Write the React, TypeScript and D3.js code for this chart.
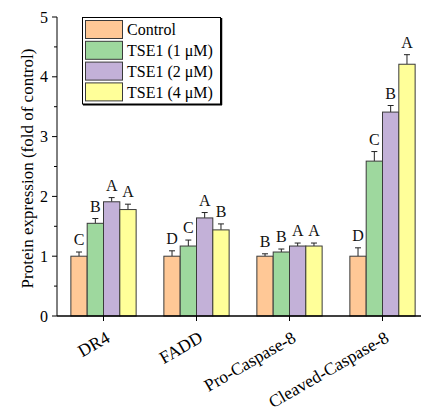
import React from "react";
import * as d3 from "d3";

const categories = ["DR4", "FADD", "Pro-Caspase-8", "Cleaved-Caspase-8"];
const seriesNames = ["Control", "TSE1 (1 μM)", "TSE1 (2 μM)", "TSE1 (4 μM)"];
const seriesColors = ["#FFC896", "#9ED89E", "#C3B1D8", "#FFFF99"];

const controlValues = [1.0, 1.0, 1.0, 1.0];
const controlErrors = [0.07, 0.09, 0.04, 0.14];
const tse1Values = [1.55, 1.17, 1.07, 2.59];
const tse1Errors = [0.08, 0.1, 0.05, 0.16];
const tse2Values = [1.91, 1.64, 1.17, 3.41];
const tse2Errors = [0.07, 0.09, 0.05, 0.11];
const tse4Values = [1.78, 1.44, 1.17, 4.21];
const tse4Errors = [0.09, 0.1, 0.05, 0.16];

const controlLetters = ["C", "D", "B", "D"];
const tse1Letters = ["B", "C", "B", "C"];
const tse2Letters = ["A", "A", "A", "B"];
const tse4Letters = ["A", "B", "A", "A"];

const yTicks = [0, 1, 2, 3, 4, 5];
const yMinorTicks = [0.5, 1.5, 2.5, 3.5, 4.5];

const allValues = [controlValues, tse1Values, tse2Values, tse4Values];
const allErrors = [controlErrors, tse1Errors, tse2Errors, tse4Errors];
const allLetters = [controlLetters, tse1Letters, tse2Letters, tse4Letters];

const W = 421;
const H = 414;
const FONT = "'Liberation Serif', 'Times New Roman', serif";

export default function App() {
  const left = 57;
  const bottom = 316;
  const top = 17;
  const x0 = d3.scaleBand<string>().domain(categories).range([left, left + 4 * 93]).padding(0);
  const x1 = d3
    .scaleBand<string>()
    .domain(seriesNames)
    .range([0, x0.bandwidth()])
    .paddingInner(0)
    .paddingOuter(0.85);
  const y = d3.scaleLinear().domain([0, 5]).range([bottom, top]);

  return (
    <svg
      width={W}
      height={H}
      style={{ position: "absolute", left: 0, top: 0, background: "#fff" }}
      fontFamily={FONT}
    >
      <rect x={0} y={0} width={W} height={H} fill="#fff" />
      {categories.map((cat, ci) => (
        <g key={cat}>
          {seriesNames.map((s, si) => {
            const v = allValues[si][ci];
            const e = allErrors[si][ci];
            const bx = (x0(cat) as number) + (x1(s) as number);
            const bw = x1.bandwidth();
            const cx = bx + bw / 2;
            return (
              <g key={s}>
                <line x1={cx} x2={cx} y1={y(v)} y2={y(v + e)} stroke="#222" strokeWidth={1} />
                <line x1={cx - 3} x2={cx + 3} y1={y(v + e)} y2={y(v + e)} stroke="#222" strokeWidth={1} />
                <rect
                  x={bx}
                  y={y(v)}
                  width={bw}
                  height={y(0) - y(v)}
                  fill={seriesColors[si]}
                  stroke="#3a3a3a"
                  strokeWidth={1}
                />
                <text x={cx} y={y(v + e) - 7} textAnchor="middle" fontSize={16} fill="#111">
                  {allLetters[si][ci]}
                </text>
              </g>
            );
          })}
        </g>
      ))}
      <line x1={left} x2={left} y1={top} y2={bottom} stroke="#000" strokeWidth={1} />
      {yTicks.map((t) => (
        <g key={t}>
          <line x1={left - 5} x2={left} y1={y(t)} y2={y(t)} stroke="#000" />
          <text x={left - 9} y={y(t)} dy="0.35em" textAnchor="end" fontSize={16}>
            {t}
          </text>
        </g>
      ))}
      {yMinorTicks.map((t) => (
        <line key={t} x1={left - 3} x2={left} y1={y(t)} y2={y(t)} stroke="#000" />
      ))}
      <line x1={left} x2={W + 10} y1={bottom} y2={bottom} stroke="#000" strokeWidth={1.5} />
      {categories.map((cat) => {
        const cx = (x0(cat) as number) + x0.bandwidth() / 2;
        return (
          <g key={cat}>
            <line x1={cx} x2={cx} y1={bottom} y2={bottom + 5} stroke="#000" />
            <text
              transform={`translate(${cx + 7.5},${bottom + 25}) rotate(-30)`}
              textAnchor="end"
              fontSize={17.5}
            >
              {cat}
            </text>
          </g>
        );
      })}
      <text
        transform={`translate(33,${(top + bottom) / 2 + 2}) rotate(-90)`}
        textAnchor="middle"
        fontSize={17}
      >
        Protein expression (fold of control)
      </text>
      <g>
        <rect x={82.5} y={17.5} width={138} height={86.5} fill="#fff" stroke="#000" strokeWidth={1} />
        <line x1={221.5} x2={221.5} y1={18} y2={105} stroke="#000" strokeWidth={1.5} />
        <line x1={83} x2={222} y1={104.8} y2={104.8} stroke="#000" strokeWidth={1.5} />
        {seriesNames.map((s, i) => (
          <g key={s}>
            <rect
              x={85.5}
              y={20.5 + i * 20.8}
              width={37}
              height={18}
              fill={seriesColors[i]}
              stroke="#3a3a3a"
            />
            <text x={127} y={29.5 + i * 20.8} dy="0.35em" fontSize={16}>
              {s}
            </text>
          </g>
        ))}
      </g>
    </svg>
  );
}
